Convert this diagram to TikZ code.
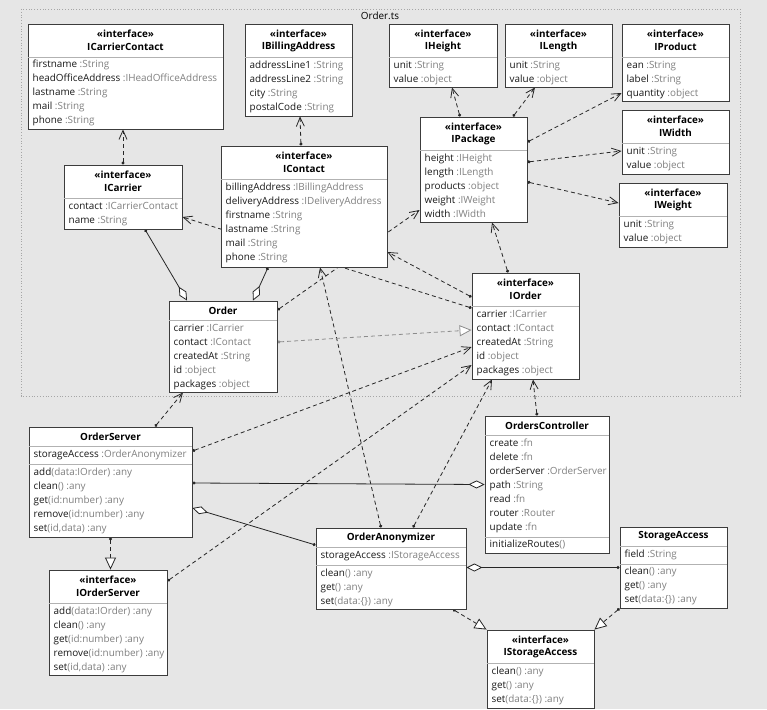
\documentclass[tikz,border=0pt]{standalone}
\usepackage{fontspec}
\setmainfont{Open Sans}
\usetikzlibrary{arrows.meta,fit}
\definecolor{bg}{HTML}{E6E6E6}
\definecolor{tgray}{HTML}{808080}
\definecolor{edge}{HTML}{3C3C3C}
\pgfdeclarelayer{back}
\pgfsetlayers{back,main}

\begin{document}
\begin{tikzpicture}[x=1pt,y=-1pt,
    box/.style={draw=edge, fill=white, line width=0.9pt, inner sep=0pt},
    head/.style={inner sep=0pt, font=\fontsize{9.9}{11}\selectfont\bfseries},
    row/.style={anchor=west, inner sep=0pt, text height=7.4pt, text depth=2.3pt,
        font=\fontsize{9.9}{11}\selectfont, text=black!90},
    sep/.style={draw=black!30, line width=0.8pt},
    dep/.style={draw=black!85, line width=0.8pt, dash pattern=on 4pt off 3pt,
        {Circle[length=3pt]}-{Straight Barb[length=9pt,width=8pt]}},
    real/.style={draw=black!85, line width=0.8pt, dash pattern=on 4pt off 3pt,
        {Circle[length=3pt]}-{Triangle[length=12pt,width=11pt,fill=white]}},
    agg/.style={draw=black!85, line width=0.8pt,
        {Circle[length=3pt]}-{Diamond[length=16pt,width=8pt,fill=white]}}]
    \useasboundingbox (0,0) rectangle (767,709);

    %% ICarrierContact
    \node[box, fit={(28,24) (223,129)}] (ICarrierContact) {};
    \node[head] at (125.5,34) {«interface»};
    \node[head] at (125.5,47) {ICarrierContact};
    \draw[sep] (28,57) -- (223,57);
    \foreach \n/\t [count=\i from 0] in {firstname/String, headOfficeAddress/IHeadOfficeAddress,
        lastname/String, mail/String, phone/String}
        \node[row] at (32.5,65+14*\i) {\n\ \textcolor{tgray}{:\t}};

    %% IBillingAddress
    \node[box, fit={(245,24) (352,116)}] (IBillingAddress) {};
    \node[head] at (298.5,34) {«interface»};
    \node[head] at (298.5,47) {IBillingAddress};
    \draw[sep] (245,57) -- (352,57);
    \foreach \n/\t [count=\i from 0] in {addressLine1/String, addressLine2/String, city/String, postalCode/String}
        \node[row] at (249.5,65.5+14*\i) {\n\ \textcolor{tgray}{:\t}};

    %% IHeight
    \node[box, fit={(389,24) (497,87)}] (IHeight) {};
    \node[head] at (443,34) {«interface»};
    \node[head] at (443,47) {IHeight};
    \draw[sep] (389,57) -- (497,57);
    \foreach \n/\t [count=\i from 0] in {unit/String, value/object}
        \node[row] at (393.5,65.5+14*\i) {\n\ \textcolor{tgray}{:\t}};

    %% ILength
    \node[box, fit={(505,24) (612,87)}] (ILength) {};
    \node[head] at (558.5,34) {«interface»};
    \node[head] at (558.5,47) {ILength};
    \draw[sep] (505,57) -- (612,57);
    \foreach \n/\t [count=\i from 0] in {unit/String, value/object}
        \node[row] at (509.5,65.5+14*\i) {\n\ \textcolor{tgray}{:\t}};

    %% IProduct
    \node[box, fit={(622,24) (729,101)}] (IProduct) {};
    \node[head] at (675.5,34) {«interface»};
    \node[head] at (675.5,47) {IProduct};
    \draw[sep] (622,57) -- (729,57);
    \foreach \n/\t [count=\i from 0] in {ean/String, label/String, quantity/object}
        \node[row] at (626.5,65.5+14*\i) {\n\ \textcolor{tgray}{:\t}};

    %% IWidth
    \node[box, fit={(622,110) (729,174)}] (IWidth) {};
    \node[head] at (675.5,120) {«interface»};
    \node[head] at (675.5,133) {IWidth};
    \draw[sep] (622,143) -- (729,143);
    \foreach \n/\t [count=\i from 0] in {unit/String, value/object}
        \node[row] at (626.5,151.5+14*\i) {\n\ \textcolor{tgray}{:\t}};

    %% IWeight
    \node[box, fit={(619,183) (727,247)}] (IWeight) {};
    \node[head] at (673,193) {«interface»};
    \node[head] at (673,206) {IWeight};
    \draw[sep] (619,216) -- (727,216);
    \foreach \n/\t [count=\i from 0] in {unit/String, value/object}
        \node[row] at (623.5,224.5+14*\i) {\n\ \textcolor{tgray}{:\t}};

    %% IPackage
    \node[box, fit={(420,117) (527,222)}] (IPackage) {};
    \node[head] at (473.5,127) {«interface»};
    \node[head] at (473.5,140) {IPackage};
    \draw[sep] (420,150) -- (527,150);
    \foreach \n/\t [count=\i from 0] in {height/IHeight, length/ILength, products/object,
        weight/IWeight, width/IWidth}
        \node[row] at (424.5,158.5+14*\i) {\n\ \textcolor{tgray}{:\t}};

    %% ICarrier
    \node[box, fit={(64,165) (182,229)}] (ICarrier) {};
    \node[head] at (123,175) {«interface»};
    \node[head] at (123,188) {ICarrier};
    \draw[sep] (64,198) -- (182,198);
    \foreach \n/\t [count=\i from 0] in {contact/ICarrierContact, name/String}
        \node[row] at (68.5,206.5+14*\i) {\n\ \textcolor{tgray}{:\t}};

    %% IContact
    \node[box, fit={(221,146) (387,267)}] (IContact) {};
    \node[head] at (304,156) {«interface»};
    \node[head] at (304,169) {IContact};
    \draw[sep] (221,179) -- (387,179);
    \foreach \n/\t [count=\i from 0] in {billingAddress/IBillingAddress, deliveryAddress/IDeliveryAddress,
        firstname/String, lastname/String, mail/String, phone/String}
        \node[row] at (225.5,187.5+14*\i) {\n\ \textcolor{tgray}{:\t}};

    %% Order
    \node[box, fit={(169,301) (277,392)}] (Order) {};
    \node[head] at (223,310.5) {Order};
    \draw[sep] (169,320) -- (277,320);
    \foreach \n/\t [count=\i from 0] in {carrier/ICarrier, contact/IContact, createdAt/String,
        id/object, packages/object}
        \node[row] at (173.5,328.5+14*\i) {\n\ \textcolor{tgray}{:\t}};

    %% IOrder
    \node[box, fit={(472,273) (579,379)}] (IOrder) {};
    \node[head] at (525.5,283) {«interface»};
    \node[head] at (525.5,296) {IOrder};
    \draw[sep] (472,306) -- (579,306);
    \foreach \n/\t [count=\i from 0] in {carrier/ICarrier, contact/IContact, createdAt/String,
        id/object, packages/object}
        \node[row] at (476.5,314.5+14*\i) {\n\ \textcolor{tgray}{:\t}};

    %% OrdersController
    \node[box, fit={(485,416) (609,553)}] (OrdersController) {};
    \node[head] at (547,425.5) {OrdersController};
    \draw[sep] (485,435) -- (609,435);
    \foreach \n/\t [count=\i from 0] in {create/fn, delete/fn, orderServer/OrderServer,
        path/String, read/fn, router/Router, update/fn}
        \node[row] at (489.5,443.5+14*\i) {\n\ \textcolor{tgray}{:\t}};
    \draw[sep] (485,537) -- (609,537);
    \node[row] at (489.5,545) {initializeRoutes\textcolor{tgray}{()}};

    %% OrderServer
    \node[box, fit={(29,427) (192,537)}] (OrderServer) {};
    \node[head] at (110.5,437) {OrderServer};
    \draw[sep] (29,446) -- (192,446);
    \node[row] at (33.5,455) {storageAccess\ \textcolor{tgray}{:OrderAnonymizer}};
    \draw[sep] (29,464) -- (192,464);
    \foreach \n/\t [count=\i from 0] in {add/(data:IOrder) :any, clean/() :any, get/(id:number) :any,
        remove/(id:number) :any, set/{(id,data) :any}}
        \node[row] at (33.5,473+14*\i) {\n\textcolor{tgray}{\t}};

    %% IOrderServer
    \node[box, fit={(49,570) (167,675)}] (IOrderServer) {};
    \node[head] at (108,580) {«interface»};
    \node[head] at (108,593) {IOrderServer};
    \draw[sep] (49,603) -- (167,603);
    \foreach \n/\t [count=\i from 0] in {add/(data:IOrder) :any, clean/() :any, get/(id:number) :any,
        remove/(id:number) :any, set/{(id,data) :any}}
        \node[row] at (53.5,611.5+14*\i) {\n\textcolor{tgray}{\t}};

    %% OrderAnonymizer
    \node[box, fit={(316,528) (466,609)}] (OrderAnonymizer) {};
    \node[head] at (391,538) {OrderAnonymizer};
    \draw[sep] (316,547) -- (466,547);
    \node[row] at (320.5,556) {storageAccess\ \textcolor{tgray}{:IStorageAccess}};
    \draw[sep] (316,565) -- (466,565);
    \foreach \n/\t [count=\i from 0] in {clean/() :any, get/() :any, set/(data:\{\}) :any}
        \node[row] at (320.5,573.5+14*\i) {\n\textcolor{tgray}{\t}};

    %% StorageAccess
    \node[box, fit={(620,527) (727,608)}] (StorageAccess) {};
    \node[head] at (673.5,536.5) {StorageAccess};
    \draw[sep] (620,546) -- (727,546);
    \node[row] at (624.5,554.5) {field\ \textcolor{tgray}{:String}};
    \draw[sep] (620,564) -- (727,564);
    \foreach \n/\t [count=\i from 0] in {clean/() :any, get/() :any, set/(data:\{\}) :any}
        \node[row] at (624.5,572+14*\i) {\n\textcolor{tgray}{\t}};

    %% IStorageAccess
    \node[box, fit={(487,630) (594,708)}] (IStorageAccess) {};
    \node[head] at (540.5,640) {«interface»};
    \node[head] at (540.5,653) {IStorageAccess};
    \draw[sep] (487,663) -- (594,663);
    \foreach \n/\t [count=\i from 0] in {clean/() :any, get/() :any, set/(data:\{\}) :any}
        \node[row] at (491.5,671.5+14*\i) {\n\textcolor{tgray}{\t}};

    \begin{pgfonlayer}{back}
        %%Background and file frame
        \fill[bg] (0,0) rectangle (767,709);
        \draw[draw=black!35, line width=0.8pt, dotted] (21,9) rectangle (740,396);
        \node[inner sep=0pt, font=\fontsize{9.9}{11}\selectfont] (OrderTs) at (380,16) {Order.ts};

        %%Dependencies
        \draw[dep] (ICarrier.north) -- (ICarrier.north |- ICarrierContact.south);
        \draw[dep] ([xshift=-3]IContact.north) -- ([xshift=1.5]IBillingAddress.south);
        \draw[dep] ([yshift=18]IOrder.west) -- ([yshift=-20]ICarrier.east);
        \draw[dep] ([yshift=29]IOrder.west) -- ([yshift=-45.5]IContact.east);
        \draw[dep] ([yshift=36.5]Order.east) -- ([yshift=-40.5]IPackage.west);
        \draw[dep] ([xshift=-10]OrderAnonymizer.north) -- ([xshift=16]IContact.south);
        \draw[dep] ([xshift=-17.5]IOrder.north) -- ([xshift=18.5]IPackage.south);
        \draw[dep] ([xshift=-13.5]IPackage.north) -- ([xshift=9]IHeight.south);
        \draw[dep] ([xshift=39.5]IPackage.north) -- ([xshift=-23.5]ILength.south);
        \draw[dep] ([yshift=27.5]IPackage.east) -- ([yshift=-30.5]IProduct.west);
        \draw[dep] ([yshift=7.5]IPackage.east) -- ([yshift=-9]IWidth.west);
        \draw[dep] ([yshift=-12.5]IPackage.east) -- ([yshift=12]IWeight.west);
        \draw[dep] ([xshift=44.5]OrderServer.north) -- ([xshift=-40]Order.south);
        \draw[dep] ([yshift=31]OrderServer.east) -- ([yshift=-21]IOrder.west);
        \draw[dep] ([yshift=41.5]IOrderServer.east) -- ([yshift=-39]IOrder.west);
        \draw[dep] ([xshift=22]OrderAnonymizer.north) -- ([xshift=-33.5]IOrder.south);
        \draw[dep] ([xshift=-10]OrdersController.north) -- ([xshift=7.5]IOrder.south);

        %%Realizations
        \draw[real, draw=black!45] ([yshift=4.5]Order.east) -- ([yshift=-4]IOrder.west);
        \draw[real] (OrderServer.south) -- (OrderServer.south |- IOrderServer.north);
        \draw[real] ([xshift=62]OrderAnonymizer.south) -- (IStorageAccess.north west);
        \draw[real] (StorageAccess.south west) -- (IStorageAccess.north east);

        %%Aggregations
        \draw[agg] ([xshift=22]ICarrier.south) -- ([xshift=-36]Order.north);
        \draw[agg] ([xshift=-36]IContact.south) -- ([xshift=30]Order.north);
        \draw[agg] ([yshift=-1]OrderServer.east) -- (OrdersController.west);
        \draw[agg] ([yshift=23.5]OrderAnonymizer.west) -- ([yshift=-26]OrderServer.east);
        \draw[agg] (StorageAccess.west) -- (StorageAccess.west -| OrderAnonymizer.east);
    \end{pgfonlayer}
\end{tikzpicture}
\end{document}
